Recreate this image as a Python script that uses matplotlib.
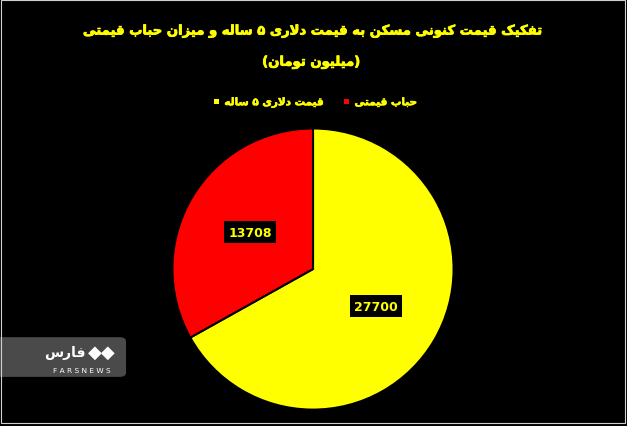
import matplotlib
matplotlib.use("Agg")
import matplotlib.pyplot as plt
import matplotlib.patheffects as pe
from matplotlib.patches import Patch, FancyBboxPatch, Rectangle

# data
labels = ["قیمت دلاری ۵ ساله", "حباب قیمتی"]
values = [27700, 13708]
colors = ["#FFFF00", "#FF0000"]
title_1 = "تفکیک قیمت کنونی مسکن به قیمت دلاری ۵ ساله و میزان حباب قیمتی"
title_2 = "(میلیون تومان)"

# simple persian shaping (matplotlib does no arabic joining / rtl)
forms = {
    "ا": ("\uFE8D", "\uFE8E", None, None),
    "ب": ("\uFE8F", "\uFE90", "\uFE91", "\uFE92"),
    "ت": ("\uFE95", "\uFE96", "\uFE97", "\uFE98"),
    "ح": ("\uFEA1", "\uFEA2", "\uFEA3", "\uFEA4"),
    "د": ("\uFEA9", "\uFEAA", None, None),
    "ر": ("\uFEAD", "\uFEAE", None, None),
    "ز": ("\uFEAF", "\uFEB0", None, None),
    "س": ("\uFEB1", "\uFEB2", "\uFEB3", "\uFEB4"),
    "ف": ("\uFED1", "\uFED2", "\uFED3", "\uFED4"),
    "ق": ("\uFED5", "\uFED6", "\uFED7", "\uFED8"),
    "ک": ("\uFB8E", "\uFB8F", "\uFB90", "\uFB91"),
    "ل": ("\uFEDD", "\uFEDE", "\uFEDF", "\uFEE0"),
    "م": ("\uFEE1", "\uFEE2", "\uFEE3", "\uFEE4"),
    "ن": ("\uFEE5", "\uFEE6", "\uFEE7", "\uFEE8"),
    "ه": ("\uFEE9", "\uFEEA", "\uFEEB", "\uFEEC"),
    "و": ("\uFEED", "\uFEEE", None, None),
    "ی": ("\uFBFC", "\uFBFD", "\uFBFE", "\uFBFF"),
}
mirror = {"(": ")", ")": "("}


def dual(c):
    return c in forms and forms[c][2] is not None


def joins(c):
    return c in forms


def fa(s):
    out = []
    i = 0
    while i < len(s):
        c = s[i]
        prev = s[i - 1] if i > 0 else ""
        if c not in forms:
            out.append(mirror.get(c, c))
            i += 1
            continue
        cp = dual(prev)
        if c == "ل" and i + 1 < len(s) and s[i + 1] == "ا":
            out.append("\uFEFC" if cp else "\uFEFB")
            i += 2
            continue
        nxt = s[i + 1] if i + 1 < len(s) else ""
        cn = dual(c) and joins(nxt)
        iso, fin, ini, med = forms[c]
        if cp and cn:
            out.append(med)
        elif cp:
            out.append(fin)
        elif cn:
            out.append(ini)
        else:
            out.append(iso)
        i += 1
    return "".join(out[::-1])


plt.rcParams["font.family"] = ["DejaVu Sans"]
heavy = [pe.withStroke(linewidth=0.55, foreground="#FFFF00")]

fig = plt.figure(figsize=(6.27, 4.27), dpi=100, facecolor="black")
ax = fig.add_axes([0.2727, 0.0351, 0.453, 0.665])
ax.set_facecolor("black")

total = sum(values)
wedges, texts, autotexts = ax.pie(
    values, colors=colors, startangle=90, counterclock=False,
    autopct=lambda p: "%d" % round(p * total / 100.0), pctdistance=0.52,
    wedgeprops=dict(edgecolor="black", linewidth=1.5),
    textprops=dict(color="#FFFF00", fontsize=9, fontweight="bold"))
for t in autotexts:
    t.set_bbox(dict(facecolor="black", edgecolor="none", pad=3))
ax.set_xlim(-1.01, 1.01)
ax.set_ylim(-1.01, 1.01)
ax.set_aspect("equal")

fig.text(0.501, 0.925, fa(title_1), color="#FFFF00", fontsize=9.5, fontweight="bold",
         ha="center", va="center", path_effects=heavy)
fig.text(0.497, 0.852, fa(title_2), color="#FFFF00", fontsize=9.5, fontweight="bold",
         ha="center", va="center", path_effects=heavy)

handles = [Patch(facecolor=c, edgecolor="none") for c in colors]
leg = fig.legend(handles, [fa(l) for l in labels], ncol=2, loc="center",
                 bbox_to_anchor=(0.503, 0.758), frameon=False,
                 handlelength=0.5, handleheight=0.5, handletextpad=0.5,
                 columnspacing=2.0, prop=dict(size=7.5, weight="bold"))
for t in leg.get_texts():
    t.set_color("#FFFF00")
    t.set_path_effects([pe.withStroke(linewidth=0.4, foreground="#FFFF00")])

# watermark
fig.patches.append(FancyBboxPatch((-0.02, 0.115), 0.221, 0.093, boxstyle="round,pad=0,rounding_size=0.01",
                                  transform=fig.transFigure, facecolor="#4a4a4a", edgecolor="none"))
fig.text(0.103, 0.174, fa("فارس"), color="white", fontsize=10, fontweight="bold",
         ha="center", va="center")
fig.text(0.162, 0.174, "◆◆", color="white", fontsize=13, ha="center", va="center")
fig.text(0.131, 0.131, "F A R S N E W S", color="white", fontsize=5.3, ha="center", va="center")

fig.patches.append(Rectangle((0.001, 0.006), 0.996, 0.992, transform=fig.transFigure,
                             facecolor="none", edgecolor="#d0d0d0", linewidth=0.8))

fig.savefig("out.png", dpi=100, facecolor="black")
